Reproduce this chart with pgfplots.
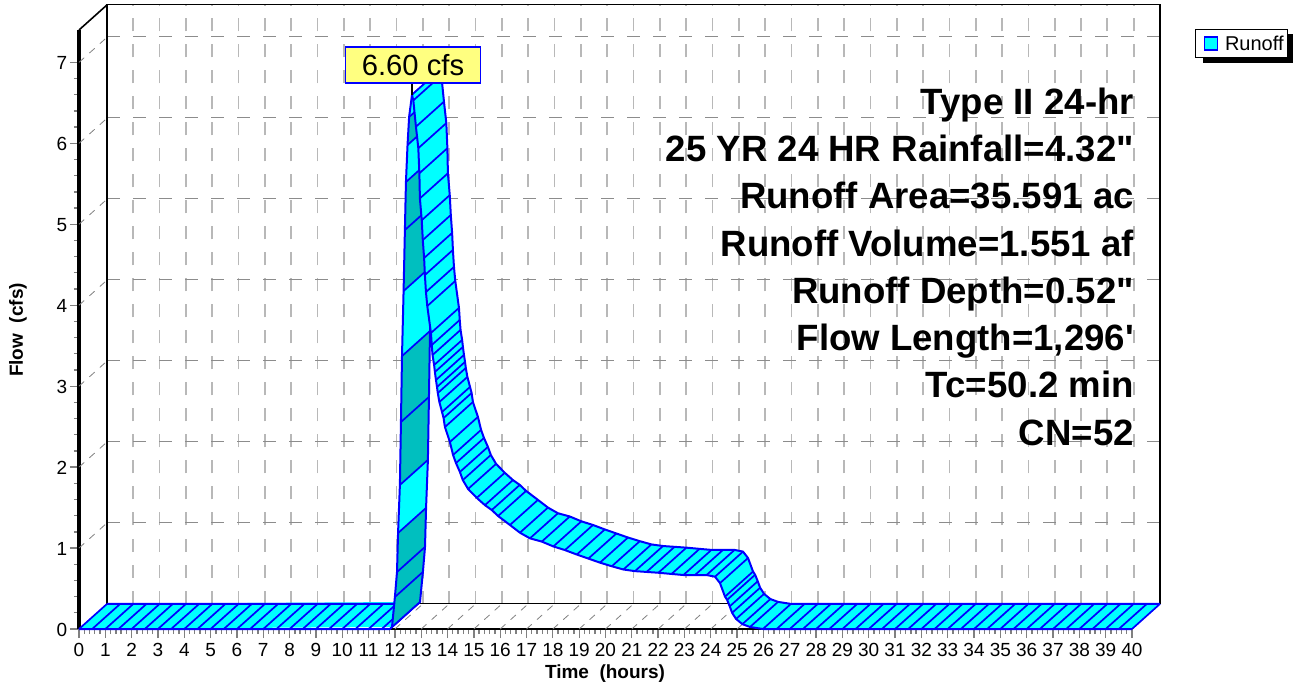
\documentclass[border=0pt]{standalone}
\usepackage{fontspec}
\setmainfont{Liberation Sans}
\usepackage{pgfplots}
\pgfplotsset{compat=1.18}
\usepackage{pgfplotstable}
\definecolor{rcyan}{RGB}{0,255,255}
\definecolor{rteal}{RGB}{0,191,191}
\definecolor{rblue}{RGB}{0,0,255}
\definecolor{rlabel}{RGB}{255,255,128}
\pgfplotstableread{
t q
0 0
0.5 0
1 0
1.5 0
2 0
2.5 0
3 0
3.5 0
4 0
4.5 0
5 0
5.5 0
6 0
6.5 0
7 0
7.5 0
8 0
8.5 0
9 0
9.5 0
10 0
10.5 0
11 0
11.5 0
11.81 0
11.89 0.025
}\baseflow
\pgfplotstableread{
t q
11.89 0.025
12.00 0.395
12.08 0.704
12.12 1.186
12.19 1.779
12.23 2.557
12.27 3.372
12.33 4.175
12.38 4.929
12.42 5.522
12.48 5.979
12.54 6.325
12.65 6.60
}\rising
\pgfplotstableread{
t q
12.65 6.60
12.70 6.53
12.80 6.205
12.89 5.94
12.93 5.63
12.95 5.32
13.02 5.05
13.06 4.805
13.11 4.583
13.14 4.373
13.18 4.163
13.23 3.99
13.37 3.657
13.40 3.508
13.43 3.385
13.49 3.261
13.52 3.175
13.56 3.076
13.60 2.99
13.63 2.915
13.69 2.804
13.79 2.681
13.85 2.606
13.90 2.495
14.09 2.31
14.21 2.15
14.32 2.05
14.47 1.94
14.58 1.84
14.78 1.73
15.11 1.62
15.42 1.53
15.68 1.47
15.92 1.396
16.37 1.285
16.75 1.19
17.13 1.12
17.58 1.08
18.02 1.02
18.46 0.975
18.91 0.92
19.35 0.87
19.79 0.82
20.24 0.775
20.68 0.735
21.12 0.715
21.56 0.705
22.01 0.695
22.51 0.68
22.96 0.667
23.40 0.667
23.84 0.667
24.16 0.646
24.35 0.567
24.54 0.40
24.62 0.36
24.72 0.28
24.81 0.20
24.96 0.124
25.2 0.06
25.49 0.025
25.98 0
26.5 0
27 0
27.5 0
28 0
28.5 0
29 0
29.5 0
30 0
30.5 0
31 0
31.5 0
32 0
32.5 0
33 0
33.5 0
34 0
34.5 0
35 0
35.5 0
36 0
36.5 0
37 0
37.5 0
38 0
38.5 0
39 0
39.5 0
40 0
}\falling
\pgfplotstableread{
t q o
0 0 0
11.89 0.025 0
11.89 0.025 1
0 0 1
}\basepoly
\pgfplotstableread{
t q o
11.89 0.025 0
12.00 0.395 0
12.08 0.704 0
12.12 1.186 0
12.19 1.779 0
12.23 2.557 0
12.27 3.372 0
12.33 4.175 0
12.38 4.929 0
12.42 5.522 0
12.48 5.979 0
12.54 6.325 0
12.65 6.60 0
12.65 6.60 1
12.54 6.325 1
12.48 5.979 1
12.42 5.522 1
12.38 4.929 1
12.33 4.175 1
12.27 3.372 1
12.23 2.557 1
12.19 1.779 1
12.12 1.186 1
12.08 0.704 1
12.00 0.395 1
11.89 0.025 1
}\risepoly
\pgfplotstableread{
t q o
12.65 6.60 0
12.80 6.205 0
12.89 5.94 0
12.95 5.32 0
13.02 5.05 0
13.11 4.583 0
13.18 4.163 0
13.23 3.99 0
13.37 3.657 0
13.43 3.385 0
13.52 3.175 0
13.60 2.99 0
13.69 2.804 0
13.79 2.681 0
13.90 2.495 0
14.09 2.31 0
14.21 2.15 0
14.32 2.05 0
14.47 1.94 0
14.58 1.84 0
14.78 1.73 0
15.11 1.62 0
15.42 1.53 0
15.68 1.47 0
15.92 1.396 0
16.37 1.285 0
16.75 1.19 0
17.13 1.12 0
17.58 1.08 0
18.02 1.02 0
18.46 0.975 0
18.91 0.92 0
19.35 0.87 0
19.79 0.82 0
20.24 0.775 0
20.68 0.735 0
21.12 0.715 0
21.56 0.705 0
22.01 0.695 0
22.51 0.68 0
22.96 0.667 0
23.84 0.667 0
24.16 0.646 0
24.35 0.567 0
24.54 0.40 0
24.62 0.36 0
24.72 0.28 0
24.81 0.20 0
24.96 0.124 0
25.2 0.06 0
25.49 0.025 0
25.98 0 0
40 0 0
40 0 1
25.98 0 1
25.49 0.025 1
25.2 0.06 1
24.96 0.124 1
24.81 0.20 1
24.72 0.28 1
24.62 0.36 1
24.54 0.40 1
24.35 0.567 1
24.16 0.646 1
23.84 0.667 1
22.96 0.667 1
22.51 0.68 1
22.01 0.695 1
21.56 0.705 1
21.12 0.715 1
20.68 0.735 1
20.24 0.775 1
19.79 0.82 1
19.35 0.87 1
18.91 0.92 1
18.46 0.975 1
18.02 1.02 1
17.58 1.08 1
17.13 1.12 1
16.75 1.19 1
16.37 1.285 1
15.92 1.396 1
15.68 1.47 1
15.42 1.53 1
15.11 1.62 1
14.78 1.73 1
14.58 1.84 1
14.47 1.94 1
14.32 2.05 1
14.21 2.15 1
14.09 2.31 1
13.90 2.495 1
13.79 2.681 1
13.69 2.804 1
13.60 2.99 1
13.52 3.175 1
13.43 3.385 1
13.37 3.657 1
13.23 3.99 1
13.18 4.163 1
13.11 4.583 1
13.02 5.05 1
12.95 5.32 1
12.89 5.94 1
12.80 6.205 1
12.65 6.60 1
}\fallpoly
\pgfplotstableread{
t q
1 0
2 0
3 0
4 0
5 0
6 0
7 0
8 0
9 0
10 0
11 0
12 0
13 0
14 0
15 0
16 0
17 0
18 0
19 0
20 0
21 0
22 0
23 0
24 0
25 0
26 0
27 0
28 0
29 0
30 0
31 0
32 0
33 0
34 0
35 0
36 0
37 0
38 0
39 0
0 1
0 2
0 3
0 4
0 5
0 6
0 7
}\walls
\newcommand{\dX}{1.064}
\newcommand{\dY}{0.31}
\tikzset{edge/.style={draw=rblue,line width=2pt,line join=round},
  hatch/.style={draw=rblue,line width=1.7pt}}
\begin{document}
\begin{tikzpicture}[x=1pt,y=1pt]
\useasboundingbox (0,0) rectangle (1294,686);
\fill[black] (1203,623) rectangle (1293,652);
% back walls
\begin{axis}[
  at={(107pt,82.5pt)},anchor=south west,
  scale only axis,width=1053pt,height=599pt,
  xmin=0,xmax=40,ymin=0,ymax=7.4,
  xtick={0,...,40},ytick={1,...,7},
  xticklabels={},yticklabels={},
  major tick length=0pt,
  grid=major,
  x grid style={black!28,line width=1.7pt,dash pattern=on 13pt off 13pt},
  y grid style={black!45,line width=0.9pt,dash pattern=on 13pt off 13pt},
  axis line style={black,line width=1.8pt},
]
\end{axis}
% front axes and data
\begin{axis}[
  at={(79pt,57pt)},anchor=south west,
  scale only axis,width=1053pt,height=599pt,
  xmin=0,xmax=40,ymin=0,ymax=7.4,
  clip=false,
  axis x line=bottom,axis y line=left,
  x axis line style={-,black,line width=2.6pt},
  y axis line style={-,black,line width=3.4pt},
  xtick={0,...,40},ytick={0,...,7},
  minor x tick num=4,minor y tick num=4,
  tick align=outside,
  major tick length=9pt,minor tick length=5pt,
  every tick/.append style={black!50,line width=1.3pt},
  minor tick style={black!50,line width=1.3pt},
  tick label style={font=\fontsize{19}{19}\selectfont},
  /pgf/number format/assume math mode=true,
  xticklabel style={inner sep=0pt,yshift=-5.5pt},
  yticklabel style={inner sep=0pt,xshift=-2.5pt,yshift=-1pt},
  legend style={at={(1.0598,1.0017)},anchor=north west,draw=black,line width=1.4pt,
    fill=white,inner xsep=2pt,inner ysep=4pt,
    font=\fontsize{20}{20}\selectfont},
  legend image code/.code={\path (0pt,0pt) (24pt,0pt);\draw[fill=rcyan,draw=rblue,line width=1.6pt] (6pt,-6.5pt) rectangle (19pt,6.5pt);},
]
% wall and floor guide lines
\addplot[black!50,line width=0.8pt,dash pattern=on 7pt off 7pt,forget plot,quiver={u=\dX,v=\dY}] table[x=t,y=q]{\walls};
\addplot[black,line width=1.6pt,forget plot,quiver={u=\dX,v=\dY}] table[row sep=\\]{x y\\ 0 7.4\\};
% base flow before the rise
\addplot[fill=rcyan,draw=none,forget plot] table[x expr=\thisrow{t}+\thisrow{o}*\dX,y expr=\thisrow{q}+\thisrow{o}*\dY]{\basepoly} --cycle;
\addplot[edge,forget plot] table[x=t,y=q]{\baseflow};
\addplot[edge,forget plot] table[x expr=\thisrow{t}+\dX,y expr=\thisrow{q}+\dY]{\baseflow};
\addplot[hatch,forget plot,quiver={u=\dX,v=\dY}] table[x=t,y=q]{\baseflow};
% rising limb
\addplot[fill=rteal,draw=none,forget plot] table[x expr=\thisrow{t}+\thisrow{o}*\dX,y expr=\thisrow{q}+\thisrow{o}*\dY]{\risepoly} --cycle;
\addplot[fill=rcyan,draw=none,forget plot] coordinates {(12.12,1.186)(12.19,1.779)(13.254,2.089)(13.184,1.496)} --cycle;
\addplot[fill=rcyan,draw=none,forget plot] coordinates {(12.27,3.372)(12.33,4.175)(13.394,4.485)(13.334,3.682)} --cycle;
\addplot[fill=rcyan,draw=none,forget plot] coordinates {(12.42,5.522)(12.48,5.979)(13.544,6.289)(13.484,5.832)} --cycle;
\addplot[fill=rcyan,draw=none,forget plot] coordinates {(12.54,6.325)(12.65,6.60)(13.714,6.91)(13.604,6.635)} --cycle;
\addplot[edge,forget plot] table[x=t,y=q]{\rising};
\addplot[edge,forget plot] table[x expr=\thisrow{t}+\dX,y expr=\thisrow{q}+\dY]{\rising};
\addplot[hatch,forget plot,quiver={u=\dX,v=\dY}] table[x=t,y=q]{\rising};
% falling limb
\addplot[fill=rcyan,draw=none,forget plot] table[x expr=\thisrow{t}+\thisrow{o}*\dX,y expr=\thisrow{q}+\thisrow{o}*\dY]{\fallpoly} --cycle;
\addplot[edge,forget plot] table[x=t,y=q]{\falling};
\addplot[edge,forget plot] table[x expr=\thisrow{t}+\dX,y expr=\thisrow{q}+\dY]{\falling};
\addplot[hatch,forget plot,quiver={u=\dX,v=\dY}] table[x=t,y=q]{\falling};
% legend
\addlegendimage{}
\addlegendentry{Runoff}
% peak label
\addplot[black,line width=1.6pt,forget plot] coordinates {(12.65,6.60)(12.65,6.78)};
\end{axis}
\node[draw=rblue,fill=rlabel,line width=1.6pt,minimum width=135pt,minimum height=36pt,inner sep=0pt,
  font=\fontsize{29.2}{29.2}\selectfont] at (413pt,621pt) {6.60 cfs};
% annotation
\begin{scope}[every node/.style={anchor=base east,inner sep=0pt,font=\fontsize{36.6}{36.6}\selectfont\bfseries}]
\node at (1134,571.7) {Type II 24-hr};
\node at (1134,524.2) {25 YR 24 HR Rainfall=4.32\textquotedbl};
\node at (1134,477.2) {Runoff Area=35.591 ac};
\node at (1134,429.7) {Runoff Volume=1.551 af};
\node at (1134,382.7) {Runoff Depth=0.52\textquotedbl};
\node at (1134,335.7) {Flow Length=1,296\textquotesingle};
\node at (1134,288.2) {Tc=50.2 min};
\node at (1134,240.7) {CN=52};
\end{scope}
\node[font=\fontsize{19}{19}\selectfont\bfseries,anchor=center,inner sep=0pt] at (605,12) {Time\ \ (hours)};
\node[font=\fontsize{19}{19}\selectfont\bfseries,rotate=90,anchor=center,inner sep=0pt] at (18,356) {Flow\ \ (cfs)};
\end{tikzpicture}
\end{document}
